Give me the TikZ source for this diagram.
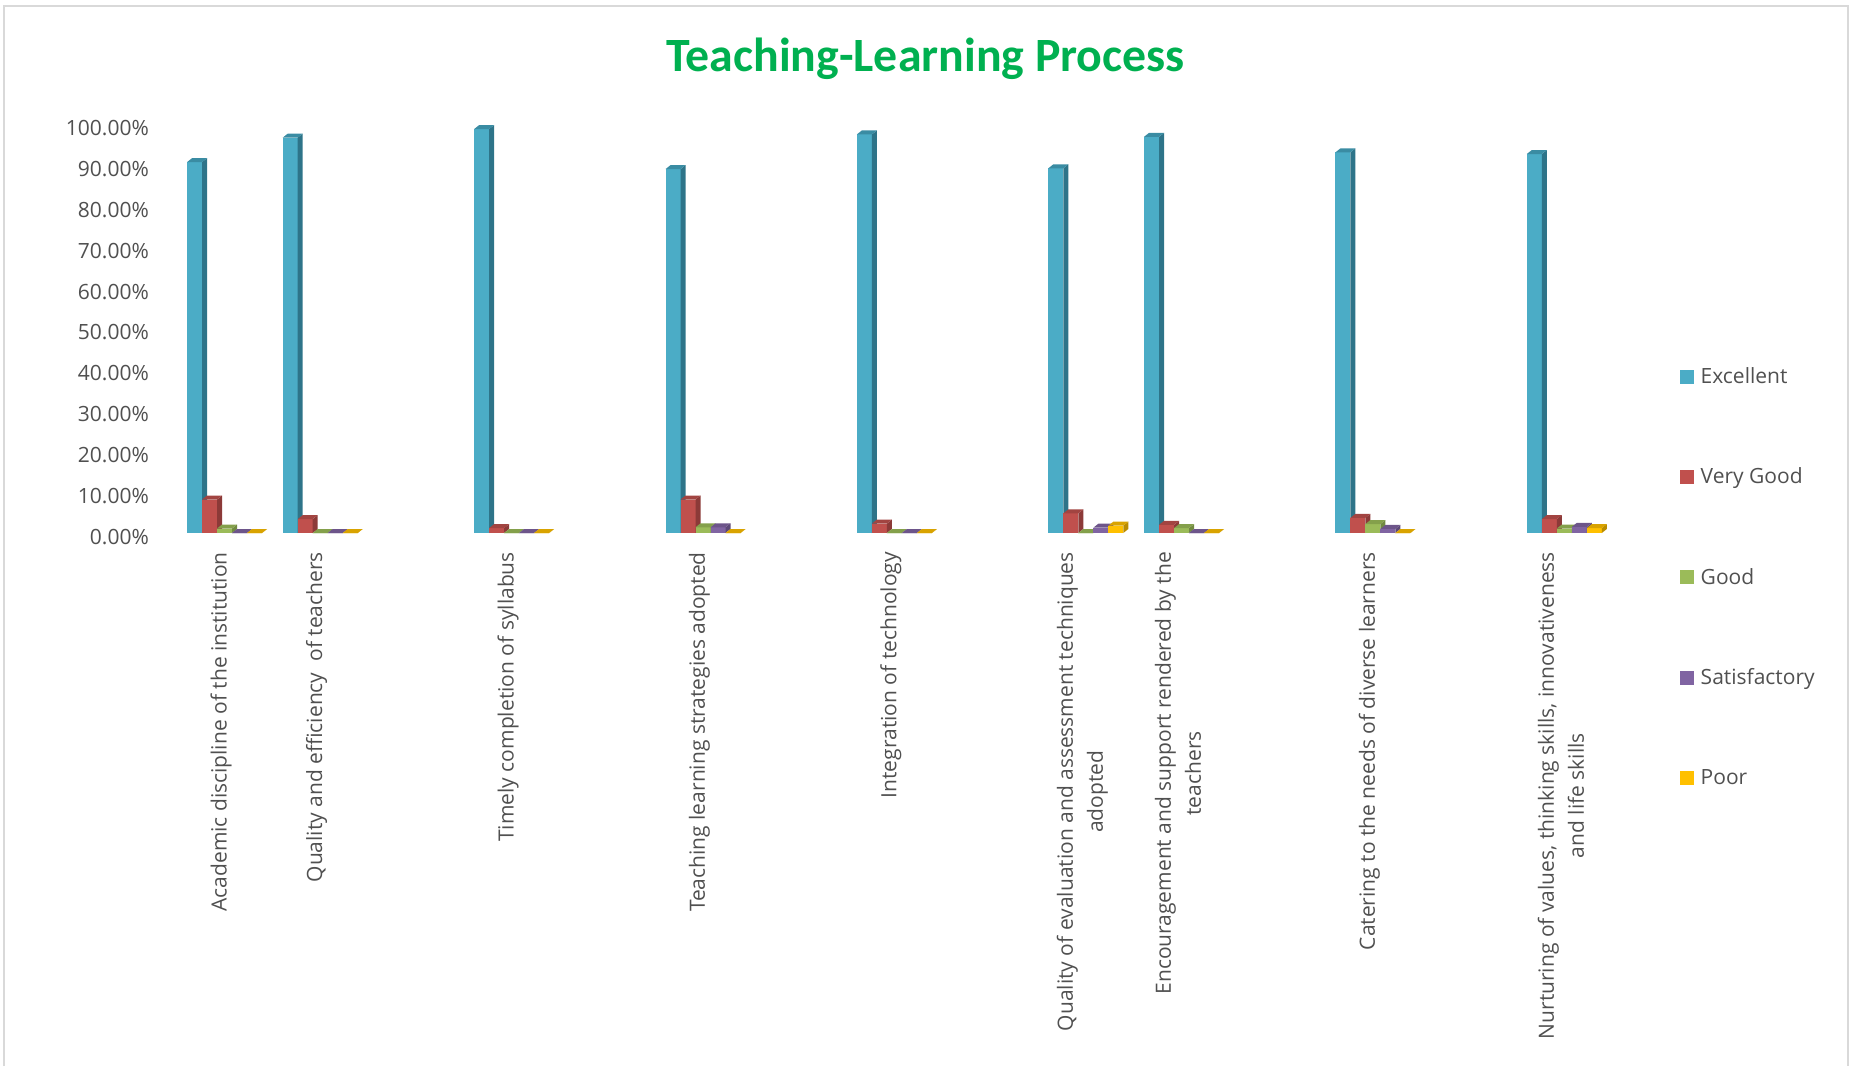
\documentclass[tikz,border=0pt]{standalone}
\usepackage{fontspec}
\setmainfont{Open Sans}
\newfontfamily\titlefont{Carlito}
\usetikzlibrary{positioning}

\definecolor{ExFront}{HTML}{4BACC6}
\definecolor{ExSide}{HTML}{2E7489}
\definecolor{ExTop}{HTML}{3A8CA3}
\definecolor{VgFront}{HTML}{C0504D}
\definecolor{VgSide}{HTML}{8C3A38}
\definecolor{VgTop}{HTML}{A24441}
\definecolor{GdFront}{HTML}{9BBB59}
\definecolor{GdSide}{HTML}{718A41}
\definecolor{GdTop}{HTML}{84A04B}
\definecolor{SaFront}{HTML}{8064A2}
\definecolor{SaSide}{HTML}{5D4977}
\definecolor{SaTop}{HTML}{6D558A}
\definecolor{PoFront}{HTML}{FFC000}
\definecolor{PoSide}{HTML}{BA8C00}
\definecolor{PoTop}{HTML}{D9A300}
\definecolor{axistext}{HTML}{505050}
\definecolor{titlegreen}{HTML}{00B050}
\definecolor{framegray}{HTML}{D9D9D9}

% one 3D column: left x, value in %, series prefix
\newcommand{\chartbar}[3]{%
  \fill[#3Front] ({#1},533) rectangle ({#1+15},{533-4.084*#2});
  \fill[#3Side] ({#1+15},533) -- ({#1+20},529) -- ({#1+20},{529-4.084*#2}) -- ({#1+15},{533-4.084*#2}) -- cycle;
  \fill[#3Top] ({#1},{533-4.084*#2}) -- ({#1+5},{529-4.084*#2}) -- ({#1+20},{529-4.084*#2}) -- ({#1+15},{533-4.084*#2}) -- cycle;
}

\begin{document}
\begin{tikzpicture}[
    x=1pt, y=-1pt,
    title/.style={anchor=base, inner sep=0pt, text=titlegreen, font=\titlefont\bfseries\fontsize{47.8}{50}\selectfont},
    ylab/.style={anchor=east, inner sep=0pt, text=axistext, font=\fontsize{21}{25}\selectfont},
    cat/.style={anchor=east, rotate=90, inner sep=0pt, align=center, text=axistext, font=\fontsize{21}{30}\selectfont},
    key/.style={minimum size=14pt, inner sep=0pt},
    keytext/.style={anchor=base west, inner sep=0pt, text=axistext, font=\fontsize{21}{25}\selectfont},
    frame/.style={draw=framegray, line width=1.5pt}
]
\useasboundingbox (0,0) rectangle (1854,1066);

% Chart frame
\draw[frame] (4,1066) -- (4,6) -- (1848,6) -- (1848,1066);

% Title
\node[title] (title) at (925.5,71.7) {Teaching-Learning Process};

% Y axis labels
\foreach \k/\lab in {0/0.00,1/10.00,2/20.00,3/30.00,4/40.00,5/50.00,6/60.00,7/70.00,8/80.00,9/90.00,10/100.00}
  \node[ylab] (tick\k) at (149,{536.7-40.84*\k}) {\lab\%};

% Bars
\foreach \slot/\ex/\vg/\gd/\sa/\po in {0/90.8/8.2/1.1/0/0, 1/96.8/3.4/0/0/0, 3/98.9/1.2/0/0/0,
    5/89.1/8.2/1.4/1.4/0, 7/97.6/2.3/0/0/0, 9/89.3/4.8/0/1.3/1.8, 10/97.0/2.0/1.2/0/0,
    12/93.2/3.7/2.2/1.0/0, 14/92.8/3.4/1.1/1.5/1.2} {
  \pgfmathsetmacro{\gx}{187+95.7*\slot}
  \chartbar{\gx}{\ex}{Ex}
  \chartbar{\gx+15}{\vg}{Vg}
  \chartbar{\gx+30}{\gd}{Gd}
  \chartbar{\gx+45}{\sa}{Sa}
  \chartbar{\gx+60}{\po}{Po}
}

% Category labels
\node[cat] (academic) at (221,552) {Academic discipline of the institution};
\node[cat] (quality) at (316.7,552) {Quality and efficiency~ of teachers};
\node[cat] (timely) at (508.1,552) {Timely completion of syllabus};
\node[cat] (strategies) at (699.5,552) {Teaching learning strategies adopted};
\node[cat] (technology) at (890.9,552) {Integration of technology};
\node[cat] (evaluation) at (1082.3,552) {Quality of evaluation and assessment techniques\\adopted};
\node[cat] (support) at (1178,552) {Encouragement and support rendered by the\\teachers};
\node[cat] (catering) at (1369.4,552) {Catering to the needs of diverse learners};
\node[cat] (values) at (1560.8,552) {Nurturing of values, thinking skills, innovativeness\\and life skills};

% Legend
\node[key, fill=ExFront] (kex) at (1687,376.5) {};
\node[key, fill=VgFront] (kvg) at (1687,476.8) {};
\node[key, fill=GdFront] (kgd) at (1687,577.2) {};
\node[key, fill=SaFront] (ksa) at (1687,677.5) {};
\node[key, fill=PoFront] (kpo) at (1687,777.9) {};
\node[keytext] (lex) at (1700.5,383.5) {Excellent};
\node[keytext] (lvg) at (1700.5,483.8) {Very Good};
\node[keytext] (lgd) at (1700.5,584.2) {Good};
\node[keytext] (lsa) at (1700.5,684.5) {Satisfactory};
\node[keytext] (lpo) at (1700.5,784.9) {Poor};

\end{tikzpicture}
\end{document}
